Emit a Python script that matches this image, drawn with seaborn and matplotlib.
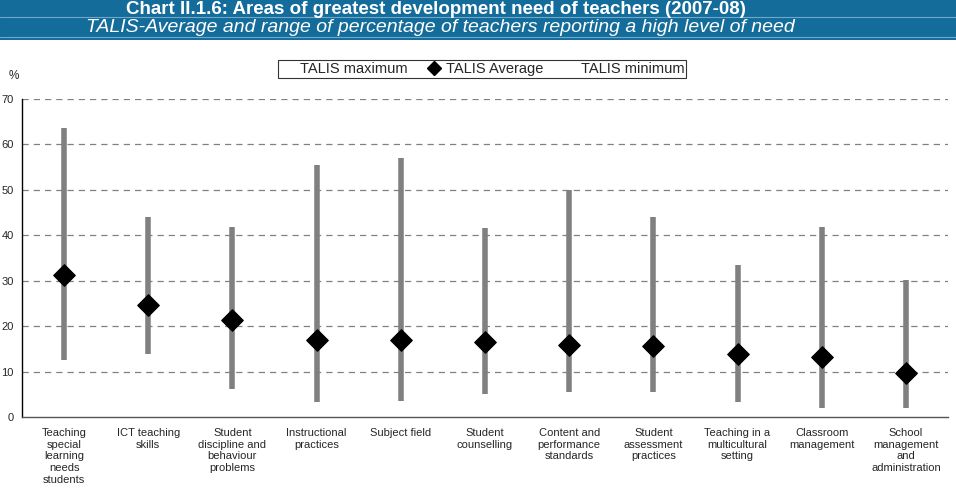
import numpy as np
import pandas as pd
import matplotlib.pyplot as plt
from matplotlib.lines import Line2D
from matplotlib.patches import Rectangle
import seaborn as sns

categories = ["Teaching\nspecial\nlearning\nneeds\nstudents", "ICT teaching\nskills",
              "Student\ndiscipline and\nbehaviour\nproblems", "Instructional\npractices",
              "Subject field", "Student\ncounselling", "Content and\nperformance\nstandards",
              "Student\nassessment\npractices", "Teaching in a\nmulticultural\nsetting",
              "Classroom\nmanagement", "School\nmanagement\nand\nadministration"]
talis_max = [63.6, 44.0, 41.8, 55.4, 57.0, 41.6, 49.9, 44.0, 33.4, 41.8, 30.1]
talis_avg = [31.3, 24.7, 21.4, 17.0, 17.0, 16.6, 15.9, 15.6, 13.8, 13.3, 9.6]
talis_min = [12.6, 13.9, 6.2, 3.2, 3.6, 5.1, 5.6, 5.4, 3.2, 1.9, 2.0]

df = pd.DataFrame({"pos": np.arange(len(categories)), "max": talis_max,
                   "avg": talis_avg, "min": talis_min})

sns.set_style("white")
plt.rcParams["font.family"] = ["Liberation Sans", "DejaVu Sans"]

fig = plt.figure(figsize=(9.56, 4.9), dpi=100)
ax = fig.add_axes([22 / 956, 1 - 417 / 490, 926 / 956, 318 / 490])

# banner
fig.patches.append(Rectangle((0, 1 - 40 / 490), 1, 40 / 490, transform=fig.transFigure,
                             facecolor="#146c9b", edgecolor="none", zorder=0))
fig.add_artist(Line2D([0, 1], [1 - 17 / 490] * 2, transform=fig.transFigure, color="#6fa9c9", lw=0.8))
fig.add_artist(Line2D([0, 1], [1 - 37 / 490] * 2, transform=fig.transFigure, color="#6fa9c9", lw=0.8))
fig.text(436 / 956, 1 - 14 / 490, "Chart II.1.6: Areas of greatest development need of teachers (2007-08)",
         ha="center", va="baseline", color="white", fontsize=13.5, fontweight="bold")
fig.text(440 / 956, 1 - 32.5 / 490, "TALIS-Average and range of percentage of teachers reporting a high level of need",
         ha="center", va="baseline", color="white", fontsize=14, fontstyle="italic")

for y in range(10, 71, 10):
    ax.axhline(y, color="#808080", lw=0.9, ls=(0, (5, 4)), zorder=0)

ax.vlines(df["pos"], df["min"], df["max"], color="#808080", lw=4, zorder=2)
sns.scatterplot(data=df, x="pos", y="avg", marker="D", s=120, color="black",
                edgecolor="black", zorder=3, ax=ax, legend=False)

ax.set_xlim(-0.5, len(categories) - 0.5)
ax.set_ylim(0, 70)
ax.set_yticks(range(0, 71, 10))
ax.set_yticklabels([str(v) for v in range(0, 71, 10)], fontsize=8)
ax.set_xticks(df["pos"])
ax.set_xticklabels(categories, fontsize=8, linespacing=1.2, va="top")
ax.tick_params(axis="y", length=0, pad=6)
ax.tick_params(axis="x", length=0, pad=8)
ax.set_xlabel("")
ax.set_ylabel("")
for s in ["top", "right"]:
    ax.spines[s].set_visible(False)
ax.spines["left"].set_color("black")
ax.spines["left"].set_linewidth(1)
ax.spines["bottom"].set_color("#555555")
ax.spines["bottom"].set_linewidth(1)

fig.text(14 / 956, 1 - 76 / 490, "%", ha="center", va="center", fontsize=8.5)

handles = [Line2D([], [], ls="none"),
           Line2D([], [], ls="none", marker="D", color="black", markersize=7.5),
           Line2D([], [], ls="none")]
leg = fig.legend(handles, ["TALIS maximum", "TALIS Average", "TALIS minimum"],
                 loc="center", bbox_to_anchor=(482 / 956, 1 - 69 / 490), ncol=3,
                 frameon=True, fancybox=False, fontsize=10.5, handlelength=1.2,
                 handletextpad=0.2, columnspacing=1.2, borderpad=0.12, borderaxespad=0)
leg.get_frame().set_edgecolor("black")
leg.get_frame().set_linewidth(0.8)

fig.savefig("out.png", dpi=100)
